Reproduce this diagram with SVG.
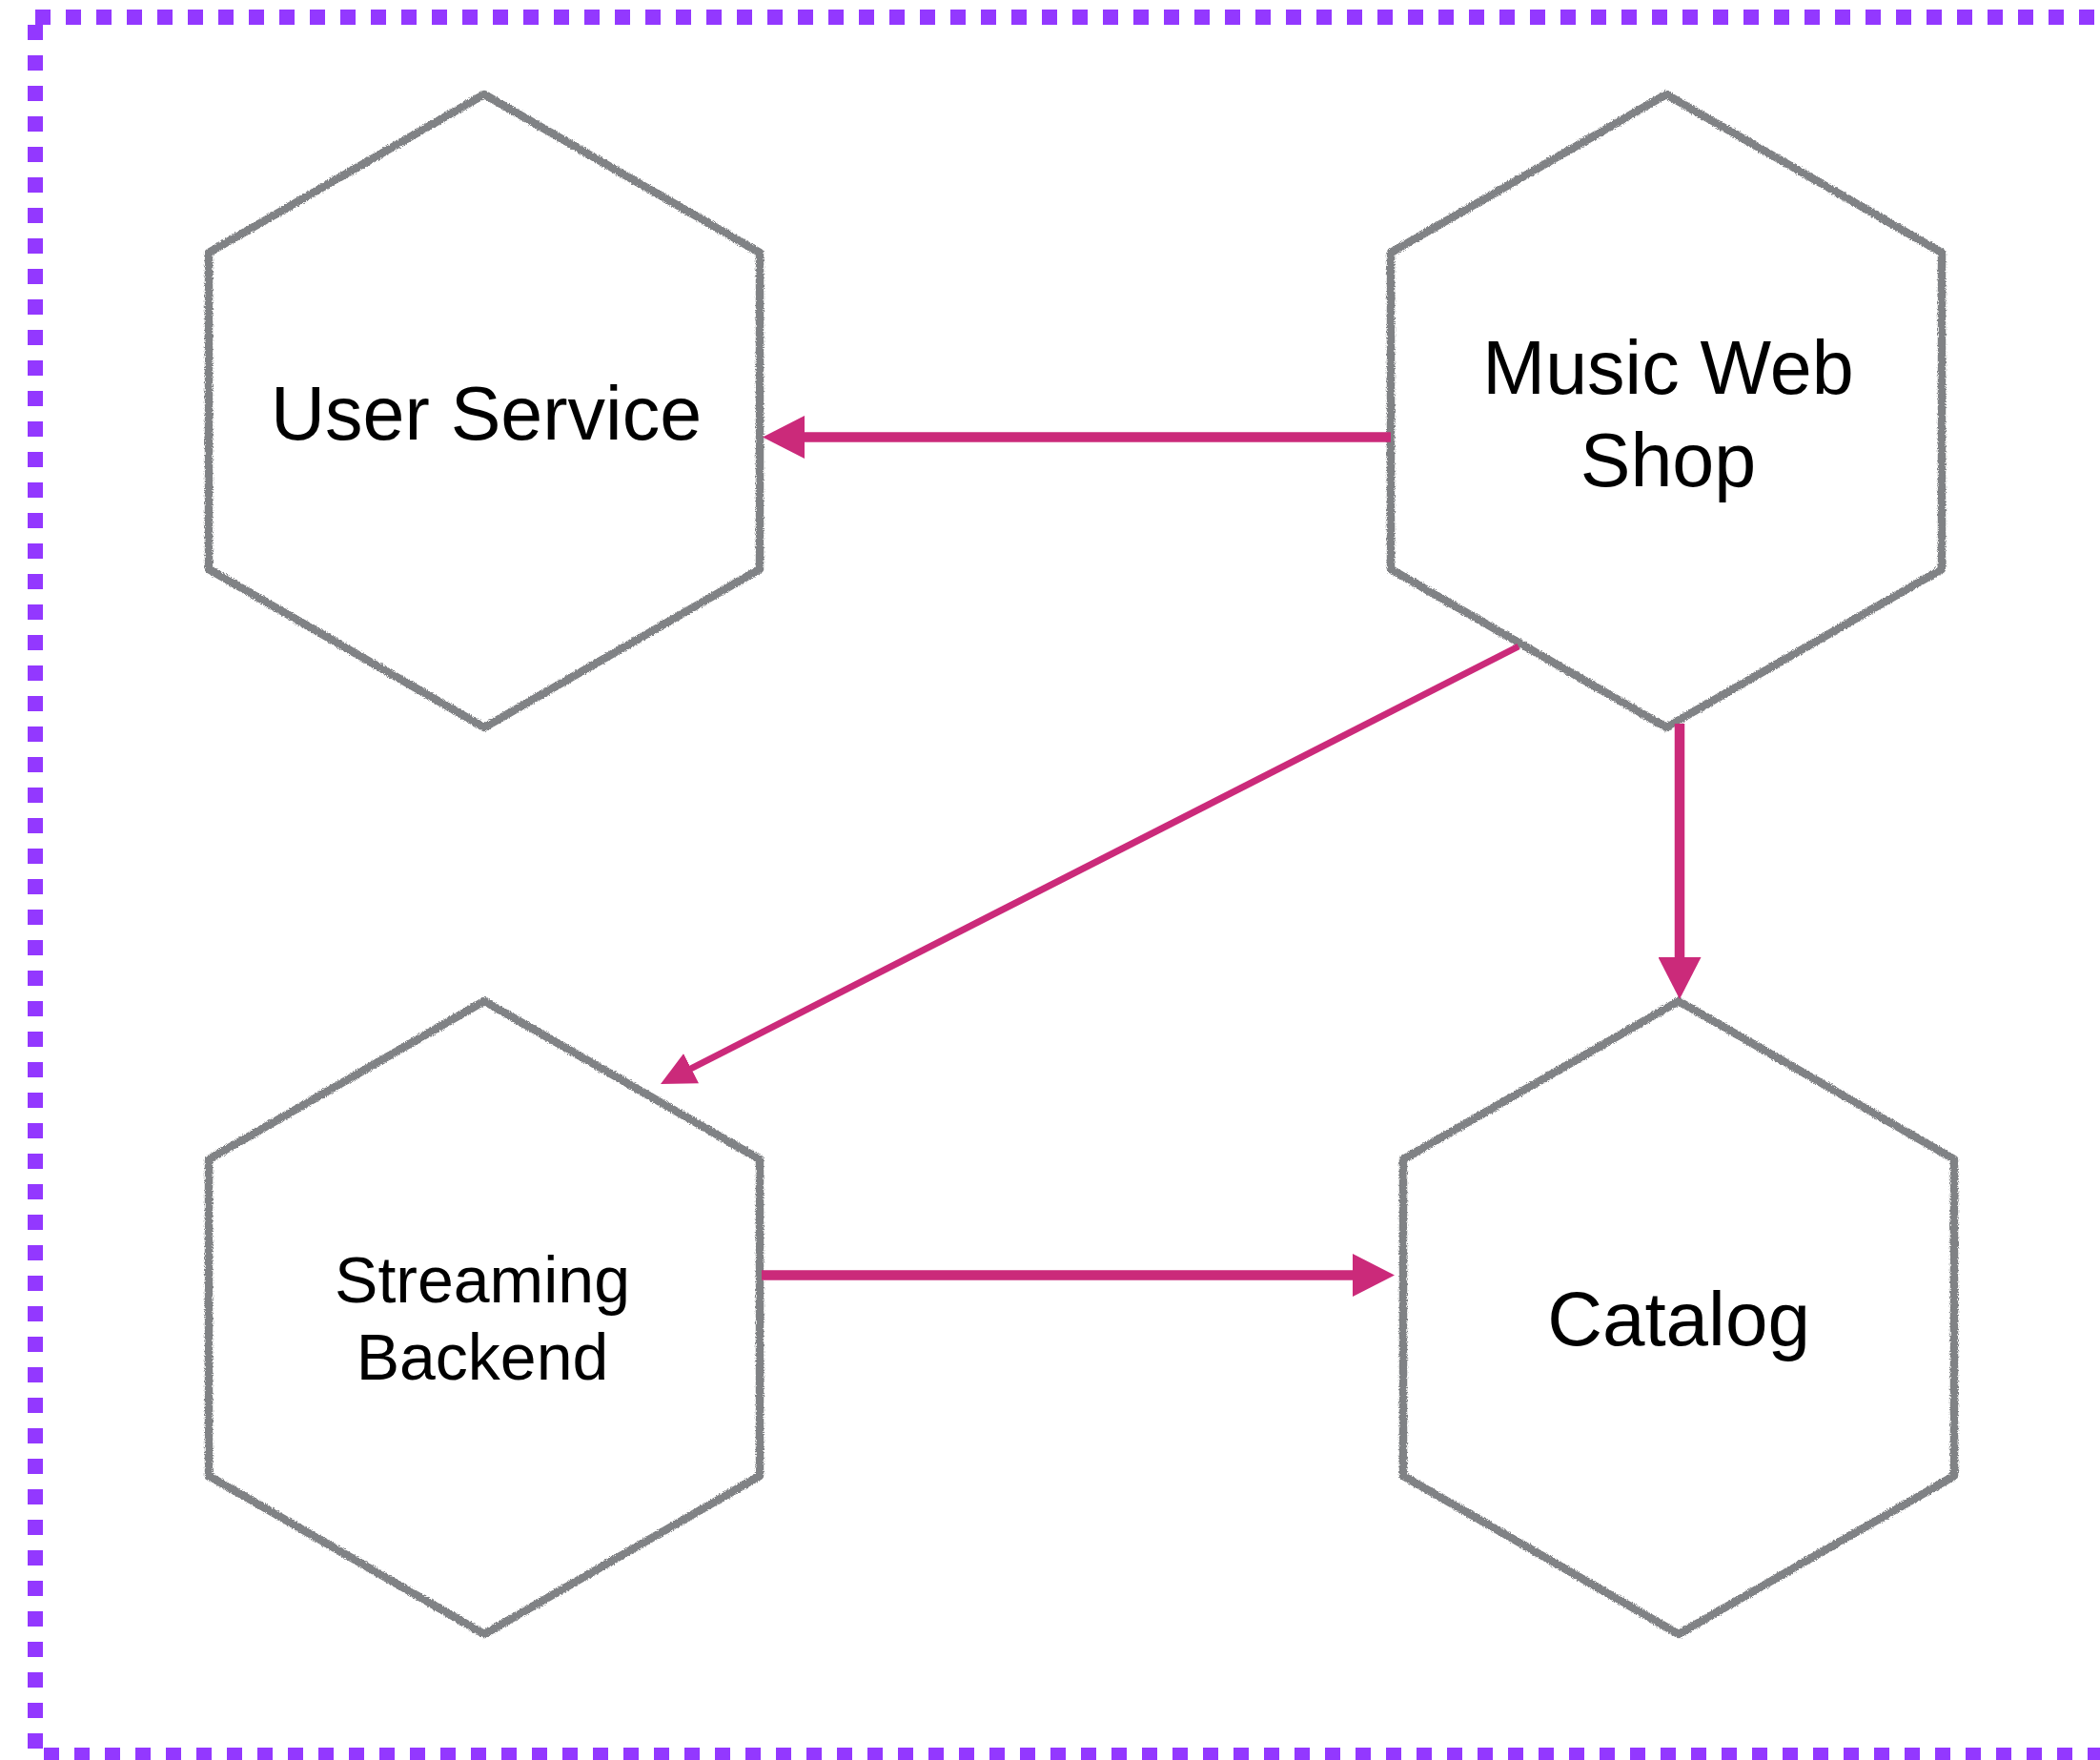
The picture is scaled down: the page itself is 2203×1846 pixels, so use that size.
<svg xmlns="http://www.w3.org/2000/svg" width="2203" height="1846" viewBox="0 0 2203 1846">
  <style>
    .border { fill: none; stroke: #9338FF; stroke-width: 16; stroke-dasharray: 16 16; }
    .hex { fill: #FFFFFF; stroke: #808285; stroke-width: 8.5; stroke-linejoin: round; filter: url(#rough); }
    .conn { fill: none; stroke: #CB2A7A; }
    .thick { stroke-width: 10.5; }
    .thin { stroke-width: 7; }
    .label { font-family: "Liberation Sans", Arial, sans-serif; fill: #000000; text-anchor: middle; }
  </style>
  <defs>
    <filter id="rough" x="-5%" y="-5%" width="110%" height="110%">
      <feTurbulence type="fractalNoise" baseFrequency="0.9" numOctaves="2" seed="3" result="noise"/>
      <feDisplacementMap in="SourceGraphic" in2="noise" scale="4" xChannelSelector="R" yChannelSelector="G"/>
    </filter>
    <marker id="head" markerUnits="userSpaceOnUse" viewBox="0 0 44 45" markerWidth="44" markerHeight="45" refX="4" refY="22.5" orient="auto">
      <path d="M0 0 L44 22.5 L0 45 Z" fill="#CB2A7A"/>
    </marker>
    <marker id="headSmall" markerUnits="userSpaceOnUse" viewBox="0 0 36 35" markerWidth="36" markerHeight="35" refX="4" refY="17.5" orient="auto">
      <path d="M0 0 L36 17.5 L0 35 Z" fill="#CB2A7A"/>
    </marker>
  </defs>

  <rect width="2203" height="1846" fill="#FFFFFF"/>

  <g id="boundary">
    <path class="border" d="M37 18 H2215"/>
    <path class="border" d="M37 26 V1850"/>
    <path class="border" d="M46 1841 H2215"/>
  </g>

  <g id="user-service">
    <polygon class="hex" points="508,99 797,265 797,597 508,763 219,597 219,265"/>
    <text class="label" x="510" y="461" font-size="79">User Service</text>
  </g>

  <g id="music-web-shop">
    <polygon class="hex" points="1748,99 2037,265 2037,597 1748,763 1459,597 1459,265"/>
    <text class="label" x="1750" y="413" font-size="79">Music Web</text>
    <text class="label" x="1750" y="510" font-size="79">Shop</text>
  </g>

  <g id="streaming-backend">
    <polygon class="hex" points="508,1050 797,1216 797,1548 508,1714 219,1548 219,1216"/>
    <text class="label" x="506" y="1366" font-size="68">Streaming</text>
    <text class="label" x="506" y="1447" font-size="68">Backend</text>
  </g>

  <g id="catalog">
    <polygon class="hex" points="1761,1050 2050,1216 2050,1548 1761,1714 1472,1548 1472,1216"/>
    <text class="label" x="1761" y="1411" font-size="80">Catalog</text>
  </g>

  <g id="connectors">
    <path class="conn thick" d="M1459 458.5 H840" marker-end="url(#head)"/>
    <path class="conn thick" d="M1762 759 V1008" marker-end="url(#head)"/>
    <path class="conn thick" d="M799 1337.5 H1423" marker-end="url(#head)"/>
    <path class="conn thin" d="M1593 678 L721.5 1122.5" marker-end="url(#headSmall)"/>
  </g>
</svg>
